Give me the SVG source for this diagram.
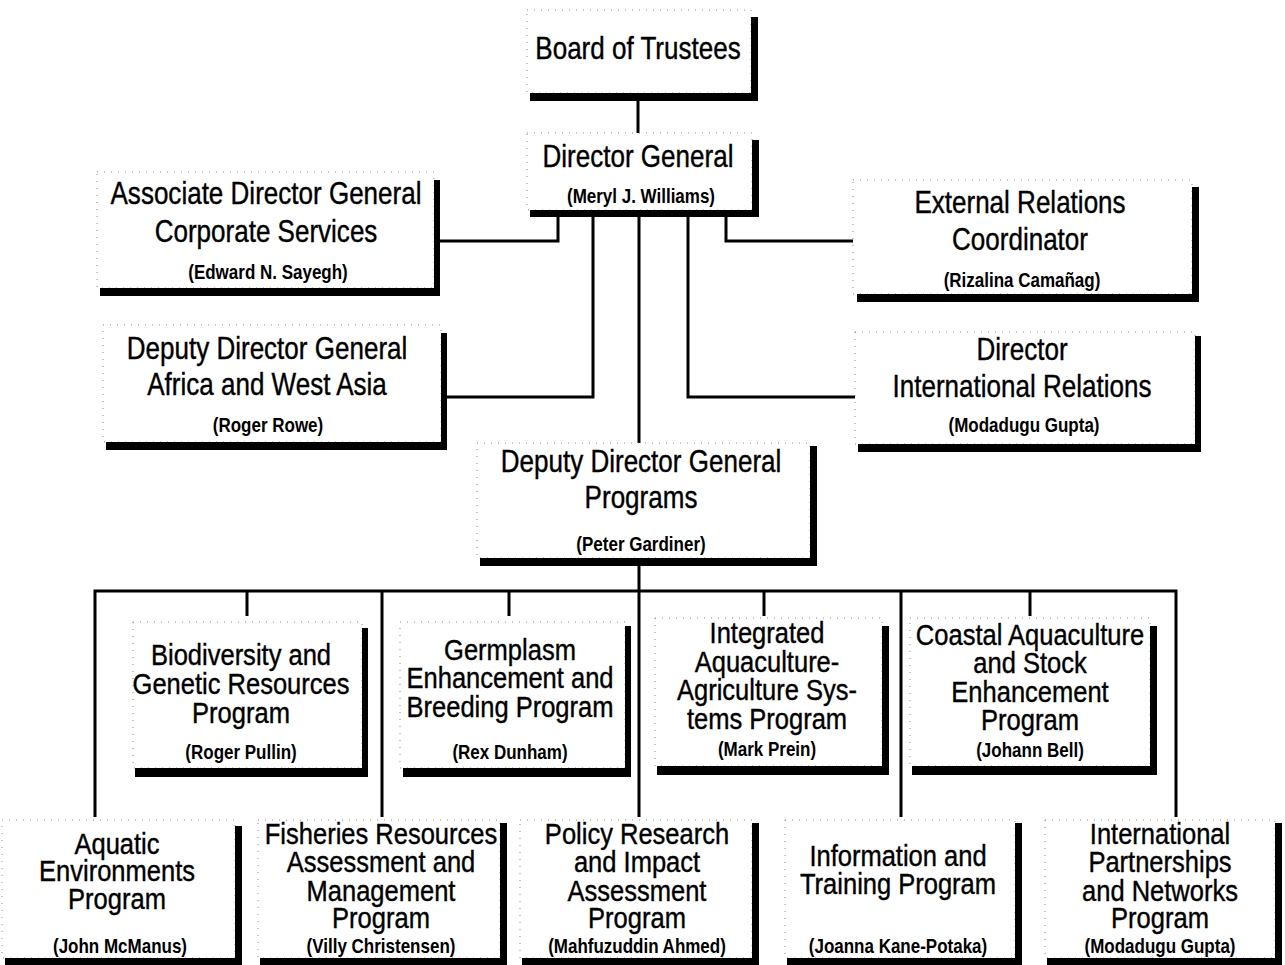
<svg xmlns="http://www.w3.org/2000/svg" width="1285" height="965" viewBox="0 0 1285 965">
<style>
.box{fill:none;stroke:#8a8a8a;stroke-width:1;stroke-dasharray:1 6}
.sh{fill:#000}
.c{fill:none;stroke:#000;stroke-width:3;stroke-linejoin:miter}
text{font-family:"Liberation Sans",Arial,sans-serif;text-anchor:middle;fill:#000}
.t{font-size:31px;stroke:#000;stroke-width:0.4}
.p{font-size:29px;stroke:#000;stroke-width:0.4}
.n{font-size:20px;font-weight:bold}
</style>
<rect width="1285" height="965" fill="#fff"/>
<g id="connectors">
<path class="c" d="M638,101V133"/>
<path class="c" d="M558,217V241H440"/>
<path class="c" d="M593,217V397H447"/>
<path class="c" d="M639,217V443"/>
<path class="c" d="M688,217V397H855"/>
<path class="c" d="M726,217V241H853"/>
<path class="c" d="M639,566V817"/>
<path class="c" d="M95,817V591H1176V817"/>
<path class="c" d="M247,591V616"/>
<path class="c" d="M382,591V817"/>
<path class="c" d="M509,591V616"/>
<path class="c" d="M764,591V616"/>
<path class="c" d="M901,591V817"/>
<path class="c" d="M1030,591V616"/>
</g>
<g id="board">
<rect class="box" x="527" y="10" width="224" height="83"/>
<rect class="sh" x="751" y="17" width="7" height="84"/><rect class="sh" x="530" y="93" width="228" height="8"/>
<text class="t" transform="translate(638,59) scale(.84,1)">Board of Trustees</text>
</g>
<g id="dg">
<rect class="box" x="527" y="133" width="225" height="77"/>
<rect class="sh" x="752" y="140" width="7" height="77"/><rect class="sh" x="530" y="210" width="229" height="7"/>
<text class="t" transform="translate(638,167) scale(.84,1)">Director General</text>
<text class="n" transform="translate(641,203) scale(.85,1)">(Meryl J. Williams)</text>
</g>
<g id="adg">
<rect class="box" x="97" y="172" width="337" height="116"/>
<rect class="sh" x="434" y="180" width="6" height="116"/><rect class="sh" x="100" y="288" width="340" height="8"/>
<text class="t" transform="translate(266,204) scale(.84,1)">Associate Director General</text>
<text class="t" transform="translate(266,242) scale(.84,1)">Corporate Services</text>
<text class="n" transform="translate(268,279) scale(.85,1)">(Edward N. Sayegh)</text>
</g>
<g id="erc">
<rect class="box" x="853" y="180" width="339" height="114"/>
<rect class="sh" x="1192" y="187" width="7" height="115"/><rect class="sh" x="857" y="294" width="342" height="8"/>
<text class="t" transform="translate(1020,213) scale(.84,1)">External Relations</text>
<text class="t" transform="translate(1020,250) scale(.84,1)">Coordinator</text>
<text class="n" transform="translate(1022,287) scale(.85,1)">(Rizalina Camañag)</text>
</g>
<g id="ddga">
<rect class="box" x="103" y="325" width="338" height="117"/>
<rect class="sh" x="441" y="333" width="6" height="117"/><rect class="sh" x="106" y="442" width="341" height="8"/>
<text class="t" transform="translate(267,359) scale(.84,1)">Deputy Director General</text>
<text class="t" transform="translate(267,395) scale(.84,1)">Africa and West Asia</text>
<text class="n" transform="translate(268,432) scale(.85,1)">(Roger Rowe)</text>
</g>
<g id="dir">
<rect class="box" x="855" y="332" width="340" height="112"/>
<rect class="sh" x="1195" y="336" width="6" height="116"/><rect class="sh" x="858" y="444" width="343" height="8"/>
<text class="t" transform="translate(1022,360) scale(.84,1)">Director</text>
<text class="t" transform="translate(1022,397) scale(.84,1)">International Relations</text>
<text class="n" transform="translate(1024,432) scale(.85,1)">(Modadugu Gupta)</text>
</g>
<g id="ddgp">
<rect class="box" x="477" y="443" width="333" height="115"/>
<rect class="sh" x="810" y="446" width="7" height="120"/><rect class="sh" x="480" y="558" width="337" height="8"/>
<text class="t" transform="translate(641,472) scale(.84,1)">Deputy Director General</text>
<text class="t" transform="translate(641,508) scale(.84,1)">Programs</text>
<text class="n" transform="translate(641,551) scale(.85,1)">(Peter Gardiner)</text>
</g>
<g id="bio">
<rect class="box" x="133" y="622" width="229" height="146"/>
<rect class="sh" x="362" y="628" width="6" height="149"/><rect class="sh" x="135" y="768" width="233" height="9"/>
<text class="p" transform="translate(241,665) scale(.88,1)">Biodiversity and</text>
<text class="p" transform="translate(241,694) scale(.88,1)">Genetic Resources</text>
<text class="p" transform="translate(241,723) scale(.88,1)">Program</text>
<text class="n" transform="translate(241,759) scale(.85,1)">(Roger Pullin)</text>
</g>
<g id="germ">
<rect class="box" x="400" y="622" width="225" height="146"/>
<rect class="sh" x="625" y="626" width="6" height="151"/><rect class="sh" x="403" y="768" width="228" height="9"/>
<text class="p" transform="translate(510,660) scale(.88,1)">Germplasm</text>
<text class="p" transform="translate(510,688) scale(.88,1)">Enhancement and</text>
<text class="p" transform="translate(510,717) scale(.88,1)">Breeding Program</text>
<text class="n" transform="translate(510,759) scale(.85,1)">(Rex Dunham)</text>
</g>
<g id="iaas">
<rect class="box" x="655" y="618" width="227" height="148"/>
<rect class="sh" x="882" y="626" width="7" height="149"/><rect class="sh" x="657" y="766" width="232" height="9"/>
<text class="p" transform="translate(767,643) scale(.88,1)">Integrated</text>
<text class="p" transform="translate(767,672) scale(.88,1)">Aquaculture-</text>
<text class="p" transform="translate(767,700) scale(.88,1)">Agriculture Sys-</text>
<text class="p" transform="translate(767,729) scale(.88,1)">tems Program</text>
<text class="n" transform="translate(767,756) scale(.85,1)">(Mark Prein)</text>
</g>
<g id="coastal">
<rect class="box" x="910" y="618" width="240" height="148"/>
<rect class="sh" x="1150" y="626" width="7" height="149"/><rect class="sh" x="912" y="766" width="245" height="9"/>
<text class="p" transform="translate(1030,645) scale(.88,1)">Coastal Aquaculture</text>
<text class="p" transform="translate(1030,673) scale(.88,1)">and Stock</text>
<text class="p" transform="translate(1030,702) scale(.88,1)">Enhancement</text>
<text class="p" transform="translate(1030,730) scale(.88,1)">Program</text>
<text class="n" transform="translate(1030,757) scale(.85,1)">(Johann Bell)</text>
</g>
<g id="aquatic">
<rect class="box" x="2" y="820" width="233" height="138"/>
<rect class="sh" x="235" y="826" width="7" height="139"/><rect class="sh" x="5" y="958" width="237" height="7"/>
<text class="p" transform="translate(117,854) scale(.88,1)">Aquatic</text>
<text class="p" transform="translate(117,881) scale(.88,1)">Environments</text>
<text class="p" transform="translate(117,909) scale(.88,1)">Program</text>
<text class="n" transform="translate(120,953) scale(.85,1)">(John McManus)</text>
</g>
<g id="fish">
<rect class="box" x="258" y="820" width="242" height="138"/>
<rect class="sh" x="500" y="823" width="7" height="142"/><rect class="sh" x="260" y="958" width="247" height="7"/>
<text class="p" transform="translate(381,844) scale(.88,1)">Fisheries Resources</text>
<text class="p" transform="translate(381,872) scale(.88,1)">Assessment and</text>
<text class="p" transform="translate(381,901) scale(.88,1)">Management</text>
<text class="p" transform="translate(381,928) scale(.88,1)">Program</text>
<text class="n" transform="translate(381,953) scale(.85,1)">(Villy Christensen)</text>
</g>
<g id="policy">
<rect class="box" x="520" y="820" width="232" height="138"/>
<rect class="sh" x="752" y="823" width="7" height="142"/><rect class="sh" x="522" y="958" width="237" height="7"/>
<text class="p" transform="translate(637,844) scale(.88,1)">Policy Research</text>
<text class="p" transform="translate(637,872) scale(.88,1)">and Impact</text>
<text class="p" transform="translate(637,901) scale(.88,1)">Assessment</text>
<text class="p" transform="translate(637,928) scale(.88,1)">Program</text>
<text class="n" transform="translate(637,953) scale(.85,1)">(Mahfuzuddin Ahmed)</text>
</g>
<g id="info">
<rect class="box" x="785" y="820" width="230" height="138"/>
<rect class="sh" x="1015" y="823" width="7" height="142"/><rect class="sh" x="787" y="958" width="235" height="7"/>
<text class="p" transform="translate(898,866) scale(.88,1)">Information and</text>
<text class="p" transform="translate(898,894) scale(.88,1)">Training Program</text>
<text class="n" transform="translate(898,953) scale(.85,1)">(Joanna Kane-Potaka)</text>
</g>
<g id="ipn">
<rect class="box" x="1045" y="820" width="230" height="138"/>
<rect class="sh" x="1275" y="823" width="7" height="142"/><rect class="sh" x="1047" y="958" width="235" height="7"/>
<text class="p" transform="translate(1160,844) scale(.88,1)">International</text>
<text class="p" transform="translate(1160,872) scale(.88,1)">Partnerships</text>
<text class="p" transform="translate(1160,901) scale(.88,1)">and Networks</text>
<text class="p" transform="translate(1160,928) scale(.88,1)">Program</text>
<text class="n" transform="translate(1160,953) scale(.85,1)">(Modadugu Gupta)</text>
</g>
</svg>
